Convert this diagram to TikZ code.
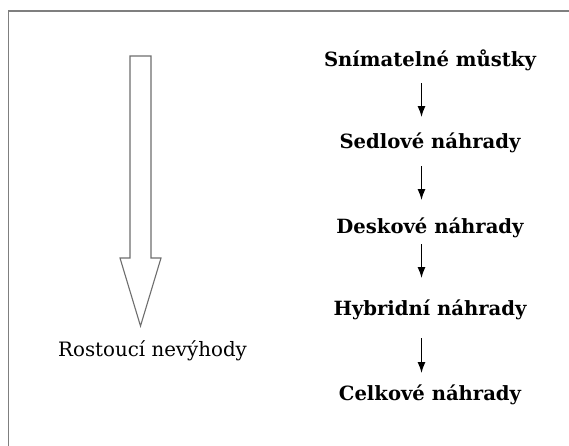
\documentclass[tikz,border=0pt]{standalone}
\usepackage{fontspec}
\setmainfont{DejaVu Serif}
\usetikzlibrary{arrows.meta}
\definecolor{framegray}{HTML}{7F7F7F}
\definecolor{arrowgray}{HTML}{6E6E6E}
\begin{document}
\begin{tikzpicture}[x=1pt,y=-1pt,
  stage/.style={inner sep=0pt,anchor=base,font=\fontsize{19.6}{22}\selectfont\bfseries},
  lbl/.style={inner sep=0pt,anchor=base west,font=\fontsize{19.8}{22}\selectfont},
  flow/.style={line width=1.3pt,-{Latex[length=11pt,width=8pt]}},
  bigarrow/.style={draw=arrowgray,line width=1.1pt,fill=white,line join=miter}]
\useasboundingbox (0,0) rectangle (569,445);
\fill[white] (0,0) rectangle (569,445);
\begin{scope}
\clip (0,0) rectangle (569,445);
\draw[framegray,line width=1.6pt] (8.5,11) rectangle (620,500);
\end{scope}
% big hollow arrow
\draw[bigarrow] (130,56) -- (151,56) -- (151,258) -- (161,258) -- (140.5,326) -- (120,258) -- (130,258) -- cycle;
\node[lbl] (lab) at (58,356) {Rostoucí nevýhody};
% stages
\node[stage] (s1) at (430,66) {Snímatelné můstky};
\node[stage] (s2) at (430,148) {Sedlové náhrady};
\node[stage] (s3) at (430,233) {Deskové náhrady};
\node[stage] (s4) at (430,315.5) {Hybridní náhrady};
\node[stage] (s5) at (430,400) {Celkové náhrady};
\draw[flow] ([shift={(-8.5,17)}]s1.base) -- ([shift={(-8.5,-31)}]s2.base);
\draw[flow] ([shift={(-8.5,18)}]s2.base) -- ([shift={(-8.5,-33)}]s3.base);
\draw[flow] ([shift={(-8.5,11)}]s3.base) -- ([shift={(-8.5,-37.5)}]s4.base);
\draw[flow] ([shift={(-8.5,22.5)}]s4.base) -- ([shift={(-8.5,-27)}]s5.base);
\end{tikzpicture}
\end{document}
